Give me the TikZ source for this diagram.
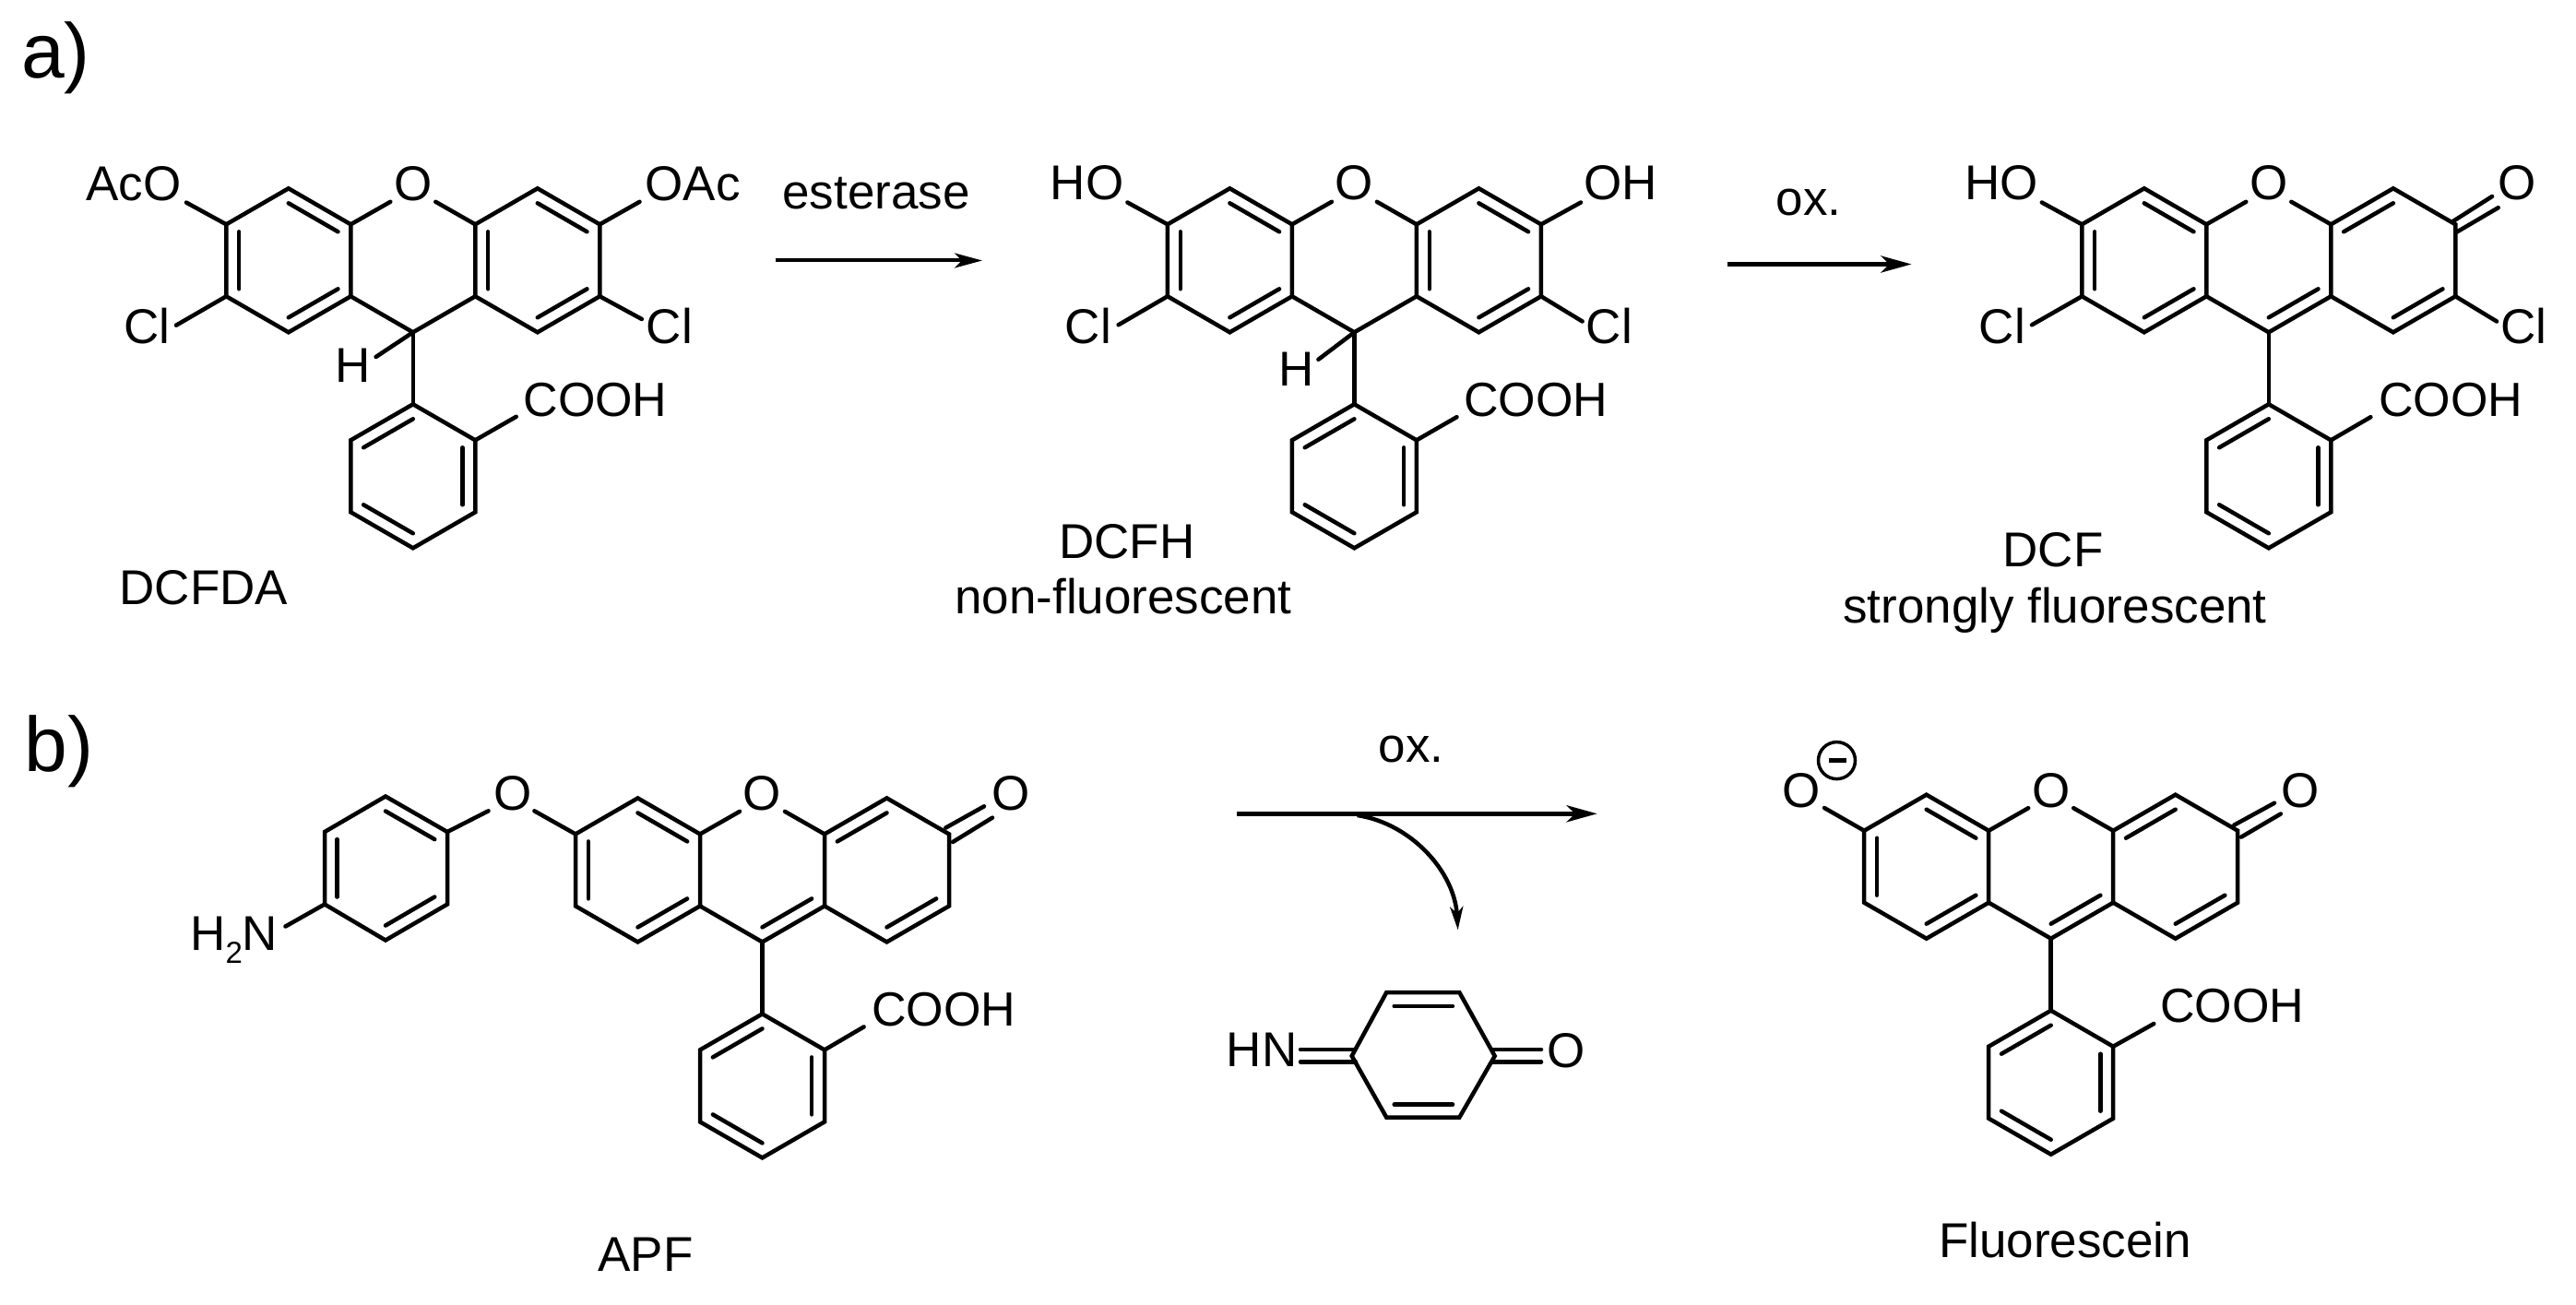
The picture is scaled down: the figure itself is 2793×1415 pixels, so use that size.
\documentclass[tikz,border=0pt]{standalone}
\usepackage{fontspec}
\setmainfont{Liberation Sans}
\usetikzlibrary{calc,arrows.meta}
\tikzset{
  bondline/.style={line width=4.5pt,line cap=round,line join=miter},
  lab/.style={inner sep=0pt,outer sep=0pt,anchor=base,font=\fontsize{53}{60}\selectfont},
  grouplab/.style={inner sep=0pt,outer sep=0pt,anchor=base,font=\fontsize{52}{60}\selectfont},
  panel/.style={inner sep=0pt,outer sep=0pt,anchor=base,font=\fontsize{84}{90}\selectfont},
  rxn/.style={line width=5pt,-{Stealth[length=33pt,width=18pt,inset=9pt]}},
  rxnthin/.style={line width=4.5pt,-{Stealth[length=25pt,width=14pt,inset=7pt]}},
}
% inner line of a double bond: #1,#2 bond ends, #3 ring centre
\newcommand{\innerbond}[3]{\draw[bondline] ($(#1)!0.205!(#3)$) -- ($(#2)!0.205!(#3)$);}
% xanthene + phenyl skeleton; #1 prefix, #2 position of C9
\newcommand{\scaffold}[2]{%
  \begin{scope}[shift={#2}]
    \coordinate (#1a1) at (-202.5,-117); \coordinate (#1a2) at (-135,-156);
    \coordinate (#1a3) at (-67.5,-117);  \coordinate (#1a4) at (-67.5,-39);
    \coordinate (#1a5) at (-135,0);      \coordinate (#1a6) at (-202.5,-39);
    \coordinate (#1c9) at (0,0);
    \coordinate (#1c1) at (67.5,-117);   \coordinate (#1c2) at (135,-156);
    \coordinate (#1c3) at (202.5,-117);  \coordinate (#1c4) at (202.5,-39);
    \coordinate (#1c5) at (135,0);       \coordinate (#1c6) at (67.5,-39);
    \coordinate (#1p1) at (0,78);        \coordinate (#1p2) at (67.5,117);
    \coordinate (#1p3) at (67.5,195);    \coordinate (#1p4) at (0,234);
    \coordinate (#1p5) at (-67.5,195);   \coordinate (#1p6) at (-67.5,117);
    \coordinate (#1ca) at (-135,-78);    \coordinate (#1cc) at (135,-78);
    \coordinate (#1cm) at (0,-78);       \coordinate (#1cp) at (0,156);
    \coordinate (#1ol) at (-24.5,-141.5); \coordinate (#1or) at (24.5,-141.5);
  \end{scope}
  \draw[bondline] (#1a3) -- (#1a2) -- (#1a1) -- (#1a6) -- (#1a5) -- (#1a4) -- cycle;
  \draw[bondline] (#1c1) -- (#1c2) -- (#1c3) -- (#1c4) -- (#1c5) -- (#1c6) -- cycle;
  \draw[bondline] (#1a4) -- (#1c9) -- (#1c6);
  \draw[bondline] (#1a3) -- (#1ol);
  \draw[bondline] (#1c1) -- (#1or);
  \draw[bondline] (#1c9) -- (#1p1);
  \draw[bondline] (#1p1) -- (#1p2) -- (#1p3) -- (#1p4) -- (#1p5) -- (#1p6) -- cycle;
  \innerbond{#1a2}{#1a3}{#1ca}
  \innerbond{#1a1}{#1a6}{#1ca}
  \innerbond{#1a4}{#1a5}{#1ca}
  \innerbond{#1p1}{#1p6}{#1cp}
  \innerbond{#1p2}{#1p3}{#1cp}
  \innerbond{#1p4}{#1p5}{#1cp}
}
\newcommand{\reducedring}[1]{%
  \innerbond{#1c2}{#1c3}{#1cc}
  \innerbond{#1c1}{#1c6}{#1cc}
  \innerbond{#1c4}{#1c5}{#1cc}
}
\newcommand{\quinoidring}[1]{%
  \innerbond{#1c1}{#1c2}{#1cc}
  \innerbond{#1c4}{#1c5}{#1cc}
  \innerbond{#1c9}{#1c6}{#1cm}
}
\begin{document}
\begin{tikzpicture}[x=1pt,y=-1pt]
\useasboundingbox (0,0) rectangle (2793,1415);

\node[panel] (pa) at (60.5,85) {a)};
\node[panel] (pb) at (64,836) {b)};

% ---------- DCFDA
\scaffold{A}{(447.8,360.3)}
\reducedring{A}
\node[lab] (Aaco) at (145,218) {AcO};
\node[lab] (Aoac) at (751,218) {OAc};
\node[lab] (Ao) at (447.8,218) {O};
\node[lab] (Acll) at (159.5,373) {Cl};
\node[lab] (Aclr) at (726,373) {Cl};
\node[lab] (Ah) at (383,414) {H};
\node[grouplab] (Acooh) at (645.5,451) {COOH};
\node[lab] (Aname) at (221,655) {DCFDA};
\coordinate (Ae1) at (202,219.6); \coordinate (Ae2) at (693.5,218.8);
\coordinate (Ae3) at (191,352.7); \coordinate (Ae4) at (695.8,346);
\coordinate (Ae5) at (407.6,387); \coordinate (Ae6) at (559.7,451.8);
\draw[bondline] (Aa1) -- (Ae1);
\draw[bondline] (Ac3) -- (Ae2);
\draw[bondline] (Aa6) -- (Ae3);
\draw[bondline] (Ac4) -- (Ae4);
\draw[bondline] (Ac9) -- (Ae5);
\draw[bondline] (Ap2) -- (Ae6);

% ---------- esterase arrow
\node[lab] (est) at (950,227) {esterase};
\coordinate (r1s) at (841,282.5); \coordinate (r1e) at (1065,282.5);
\draw[rxn,line width=4pt,-{Stealth[length=30pt,width=16pt,inset=8pt]}] (r1s) -- (r1e);

% ---------- DCFH
\scaffold{B}{(1468.4,360.3)}
\reducedring{B}
\node[lab] (Bho) at (1178.5,217) {HO};
\node[lab] (Boh) at (1757,217) {OH};
\node[lab] (Bo) at (1468.4,217) {O};
\node[lab] (Bcll) at (1180,373) {Cl};
\node[lab] (Bclr) at (1745,373) {Cl};
\node[lab] (Bh) at (1405.5,418) {H};
\node[grouplab] (Bcooh) at (1665,451) {COOH};
\node[lab] (Bname) at (1222,605) {DCFH};
\node[lab] (Bnote) at (1218,665) {non-fluorescent};
\coordinate (Be1) at (1222.4,219.5); \coordinate (Be2) at (1714,219.5);
\coordinate (Be3) at (1212.6,352.3); \coordinate (Be4) at (1715.6,348.5);
\coordinate (Be5) at (1429.4,389.8); \coordinate (Be6) at (1579.5,452.2);
\draw[bondline] (Ba1) -- (Be1);
\draw[bondline] (Bc3) -- (Be2);
\draw[bondline] (Ba6) -- (Be3);
\draw[bondline] (Bc4) -- (Be4);
\draw[bondline] (Bc9) -- (Be5);
\draw[bondline] (Bp2) -- (Be6);

% ---------- ox arrow (a)
\node[lab] (ox1) at (1961,234) {ox.};
\coordinate (r2s) at (1873,286.5); \coordinate (r2e) at (2072.5,286.5);
\draw[rxn] (r2s) -- (r2e);

% ---------- DCF
\scaffold{C}{(2459.8,360.3)}
\quinoidring{C}
\node[lab] (Cho) at (2170,217) {HO};
\node[lab] (Co) at (2459.8,217) {O};
\node[lab] (Cdo) at (2729,217) {O};
\node[lab] (Ccll) at (2171,373) {Cl};
\node[lab] (Cclr) at (2736,373) {Cl};
\node[grouplab] (Ccooh) at (2657,451) {COOH};
\node[lab] (Cname) at (2226,614) {DCF};
\node[lab] (Cnote) at (2228,675) {strongly fluorescent};
\coordinate (Ce1) at (2213.8,219.5); \coordinate (Ce3) at (2203,352.3);
\coordinate (Ce4) at (2707,348.5);   \coordinate (Ce6) at (2570.4,452.2);
\coordinate (Cd1) at (2658.8,240.5); \coordinate (Cd2) at (2702,213);
\coordinate (Cd3) at (2663,252);     \coordinate (Cd4) at (2708.7,225.2);
\draw[bondline] (Ca1) -- (Ce1);
\draw[bondline] (Ca6) -- (Ce3);
\draw[bondline] (Cc4) -- (Ce4);
\draw[bondline] (Cp2) -- (Ce6);
\draw[bondline] (Cd1) -- (Cd2);
\draw[bondline] (Cd3) -- (Cd4);

% ---------- APF
\scaffold{D}{(826.5,1021.4)}
\quinoidring{D}
\node[lab] (Do1) at (556,878) {O};
\node[lab] (Do) at (826.5,878) {O};
\node[lab] (Ddo) at (1096,878) {O};
\node[lab] (Dn) at (253.7,1030) {H\raisebox{-14.5pt}{\fontsize{33}{36}\selectfont 2}N};
\node[grouplab] (Dcooh) at (1023,1112) {COOH};
\node[lab] (Dname) at (700,1378) {APF};
\coordinate (Dr1) at (418,863.5);  \coordinate (Dr2) at (485,902);
\coordinate (Dr3) at (485,980.5);  \coordinate (Dr4) at (418,1019.5);
\coordinate (Dr5) at (352,980.5);  \coordinate (Dr6) at (352,902);
\coordinate (Drc) at (418,941.5);
\draw[bondline] (Dr1) -- (Dr2) -- (Dr3) -- (Dr4) -- (Dr5) -- (Dr6) -- cycle;
\innerbond{Dr1}{Dr2}{Drc}
\innerbond{Dr3}{Dr4}{Drc}
\innerbond{Dr5}{Dr6}{Drc}
\coordinate (De1) at (579.4,879.3); \coordinate (De2) at (529.5,879.3);
\coordinate (De3) at (309.5,1004.5); \coordinate (De6) at (936.6,1113.4);
\coordinate (Dd1) at (1025.3,897.6); \coordinate (Dd2) at (1067,874.3);
\coordinate (Dd3) at (1033,913);     \coordinate (Dd4) at (1076,886.6);
\draw[bondline] (Da1) -- (De1);
\draw[bondline] (Dr2) -- (De2);
\draw[bondline] (Dr5) -- (De3);
\draw[bondline] (Dp2) -- (De6);
\draw[bondline] (Dd1) -- (Dd2);
\draw[bondline] (Dd3) -- (Dd4);

% ---------- ox arrow (b) and side product
\node[lab] (ox2) at (1530,826) {ox.};
\coordinate (r3s) at (1341,882.3); \coordinate (r3e) at (1731.7,882.3);
\coordinate (r4s) at (1471.7,884); \coordinate (r4e) at (1580.7,1008.3);
\draw[rxn] (r3s) -- (r3e);
\draw[rxnthin] (r4s) .. controls (1530,893) and (1577,945) .. (r4e);

\coordinate (Q1) at (1465.7,1145); \coordinate (Q2) at (1503.3,1076);
\coordinate (Q3) at (1582.3,1076); \coordinate (Q4) at (1620.7,1145);
\coordinate (Q5) at (1582.3,1211.7); \coordinate (Q6) at (1503.3,1211.7);
\draw[bondline] (Q1) -- (Q2) -- (Q3) -- (Q4) -- (Q5) -- (Q6) -- cycle;
\coordinate (Qi1) at (1511.7,1091); \coordinate (Qi2) at (1575,1091);
\coordinate (Qi3) at (1511.7,1197.7); \coordinate (Qi4) at (1575,1197.7);
\draw[bondline] (Qi1) -- (Qi2);
\draw[bondline] (Qi3) -- (Qi4);
\node[lab] (Qhn) at (1368,1156) {HN};
\node[lab] (Qo) at (1698,1157) {O};
\coordinate (Qn1) at (1410,1138); \coordinate (Qn2) at (1468,1138);
\coordinate (Qn3) at (1410,1151.3); \coordinate (Qn4) at (1470,1151.3);
\coordinate (Qo1) at (1618,1138); \coordinate (Qo2) at (1671,1138);
\coordinate (Qo3) at (1618,1151.3); \coordinate (Qo4) at (1671,1151.3);
\draw[bondline] (Qn1) -- (Qn2);
\draw[bondline] (Qn3) -- (Qn4);
\draw[bondline] (Qo1) -- (Qo2);
\draw[bondline] (Qo3) -- (Qo4);

% ---------- Fluorescein
\scaffold{E}{(2223.7,1017.7)}
\quinoidring{E}
\node[lab] (Eom) at (1952.7,875) {O};
\node[lab] (Eo) at (2223.7,875) {O};
\node[lab] (Edo) at (2493.8,875) {O};
\node[draw,circle,line width=3.5pt,minimum size=40pt,inner sep=0pt] (Echg) at (1991.5,824.6) {};
\coordinate (Em1) at (1982.6,824.6); \coordinate (Em2) at (2001.8,824.6);
\draw[line width=4.5pt] (Em1) -- (Em2);
\node[grouplab] (Ecooh) at (2420,1108) {COOH};
\node[lab] (Ename) at (2239,1363) {Fluorescein};
\coordinate (Ee1) at (1978,876);   \coordinate (Ee6) at (2335.3,1110);
\coordinate (Ed1) at (2422.3,894.6); \coordinate (Ed2) at (2466,870.7);
\coordinate (Ed3) at (2430,907.6); \coordinate (Ed4) at (2472.8,882.5);
\draw[bondline] (Ea1) -- (Ee1);
\draw[bondline] (Ep2) -- (Ee6);
\draw[bondline] (Ed1) -- (Ed2);
\draw[bondline] (Ed3) -- (Ed4);
\end{tikzpicture}
\end{document}
